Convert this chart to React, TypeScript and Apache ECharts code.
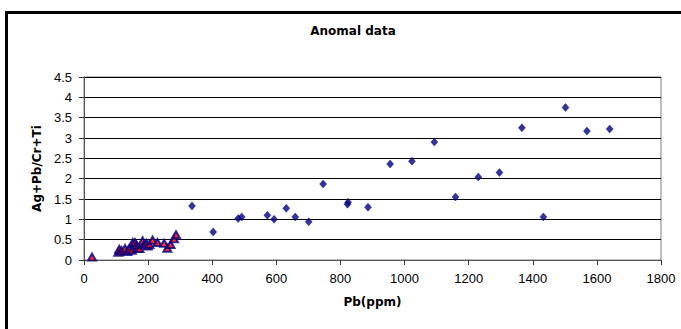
import React, { useEffect, useRef } from "react";
import * as echarts from "echarts";

const triX = [25, 107, 110, 117, 128, 135, 141, 149, 152, 159, 164, 166, 173, 183, 187, 195, 199, 204, 214, 229, 250, 260, 270, 281, 287];
const triY = [0.07, 0.19, 0.26, 0.23, 0.28, 0.21, 0.27, 0.24, 0.43, 0.43, 0.36, 0.29, 0.28, 0.47, 0.38, 0.41, 0.34, 0.38, 0.49, 0.43, 0.41, 0.29, 0.38, 0.52, 0.62];

const diaX = [337, 403, 481, 492, 572, 593, 631, 659, 701, 746, 822, 824, 886, 955, 1023, 1093, 1159, 1230, 1296, 1366, 1433, 1502, 1569, 1640];
const diaY = [1.33, 0.69, 1.02, 1.06, 1.10, 1.0, 1.27, 1.06, 0.94, 1.87, 1.37, 1.42, 1.30, 2.36, 2.43, 2.90, 1.55, 2.04, 2.15, 3.25, 1.06, 3.75, 3.17, 3.22];

const xTicks = [0, 200, 400, 600, 800, 1000, 1200, 1400, 1600, 1800];
const yTicks = [0, 0.5, 1, 1.5, 2, 2.5, 3, 3.5, 4, 4.5];

const titleText = "Anomal data";
const xName = "Pb(ppm)";
const yName = "Ag+Pb/Cr+Ti";

export default function App() {
  const ref = useRef<HTMLDivElement>(null);
  useEffect(() => {
    if (!ref.current) return;
    const chart = echarts.init(ref.current, null, { renderer: "svg" });
    const font = "'DejaVu Sans', sans-serif";
    const tickFont = "'Liberation Sans', Arial, sans-serif";
    chart.setOption({
      animation: false,
      backgroundColor: "#ffffff",
      textStyle: { fontFamily: font },
      title: {
        text: titleText,
        left: 348,
        top: 20,
        textAlign: "center",
        textStyle: { fontSize: 12, fontWeight: "bold", color: "#000", fontFamily: font },
      },
      graphic: [
        {
          type: "rect",
          shape: { x: 6.5, y: 12.5, width: 700, height: 350 },
          style: { fill: "none", stroke: "#000", lineWidth: 3 },
          silent: true,
          z: 100,
        },
      ],
      grid: { left: 84, right: 20, top: 77, bottom: 69, show: true, borderColor: "#808080", borderWidth: 1, backgroundColor: "transparent" },
      xAxis: {
        type: "value",
        min: xTicks[0],
        max: xTicks[xTicks.length - 1],
        interval: 200,
        name: xName,
        nameLocation: "middle",
        nameGap: 36,
        nameTextStyle: { fontSize: 12, fontWeight: "bold", color: "#000", fontFamily: font },
        axisLine: { show: true, lineStyle: { color: "#555", width: 1 } },
        axisTick: { show: true, length: 5, inside: false, lineStyle: { color: "#333" } },
        axisLabel: { fontSize: 13, color: "#000", margin: 12, fontFamily: tickFont, formatter: (v: number) => String(v) },
        splitLine: { show: false },
      },
      yAxis: {
        type: "value",
        min: yTicks[0],
        max: yTicks[yTicks.length - 1],
        interval: 0.5,
        name: yName,
        nameLocation: "middle",
        nameGap: 39,
        nameRotate: 90,
        nameTextStyle: { fontSize: 12, fontWeight: "bold", color: "#000", fontFamily: font },
        axisLine: { show: true, lineStyle: { color: "#555", width: 1 } },
        axisTick: { show: true, length: 5, inside: false, lineStyle: { color: "#333" } },
        axisLabel: { fontSize: 13, color: "#000", margin: 12, fontFamily: tickFont, formatter: (v: number) => String(v) },
        splitLine: { show: true, lineStyle: { color: "#000", width: 1 } },
      },
      series: [
        {
          type: "scatter",
          name: "high",
          symbol: "diamond",
          symbolSize: [7, 8],
          itemStyle: { color: "#000080", borderColor: "#000080", borderWidth: 0.5 },
          data: diaX.map((x, i) => [x, diaY[i]]),
          z: 3,
        },
        {
          type: "scatter",
          name: "low",
          symbol: "triangle",
          symbolSize: [8, 7],
          itemStyle: { color: "#ff0000", borderColor: "#000080", borderWidth: 2 },
          data: triX.map((x, i) => [x, triY[i]]),
          z: 4,
        },
      ],
    });
    return () => chart.dispose();
  }, []);
  return (
    <div
      ref={ref}
      style={{ position: "fixed", left: 0, top: 0, width: 681, height: 329 }}
    />
  );
}
